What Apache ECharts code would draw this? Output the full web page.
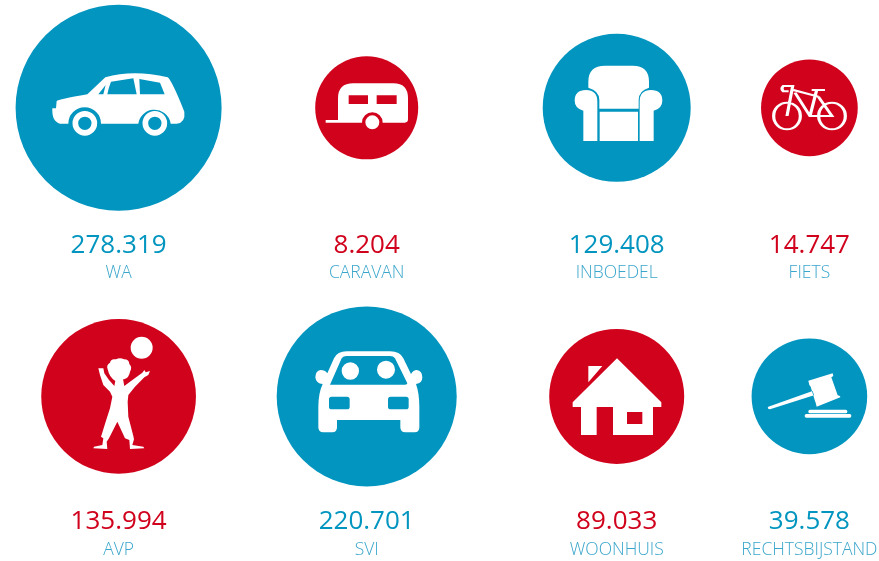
<!DOCTYPE html>
<html>
<head>
<meta charset="utf-8">
<title>Verzekeringen</title>
<style>
html, body { margin: 0; padding: 0; background: #fff; }
#main { width: 879px; height: 561px; }
</style>
<script src="https://cdn.jsdelivr.net/npm/echarts@6/dist/echarts.min.js"></script>
</head>
<body>
<div id="main"></div>
<script>
var categories = ['WA', 'CARAVAN', 'INBOEDEL', 'FIETS', 'AVP', 'SVI', 'WOONHUIS', 'RECHTSBIJSTAND'];
var amounts = [278319, 8204, 129408, 14747, 135994, 220701, 89033, 39578];

// layout, one entry per category
var BLUE = '#0295bf', RED = '#d0021c', NAME_BLUE = '#3aa6cb';
var tints = [BLUE, RED, BLUE, RED, RED, BLUE, RED, BLUE];
var diameters = [206, 103, 148, 96.7, 154.7, 180, 135, 115.6];
var colX = [118.6, 366.7, 616.7, 809.4];
var circleY = [107.8, 396.4];
var amountY = [245.7, 521.7];
var nameY = [273.2, 549.6];

function circ(cx, cy, r, cw) {
    var s = cw ? 1 : 0;
    return 'M' + (cx - r) + ' ' + cy + 'A' + r + ' ' + r + ' 0 1 ' + s + ' ' + (cx + r) + ' ' + cy +
        'A' + r + ' ' + r + ' 0 1 ' + s + ' ' + (cx - r) + ' ' + cy + 'Z';
}
function box(x0, y0, x1, y1, cw) {
    return cw ? 'M' + x0 + ' ' + y0 + 'L' + x1 + ' ' + y0 + 'L' + x1 + ' ' + y1 + 'L' + x0 + ' ' + y1 + 'Z'
              : 'M' + x0 + ' ' + y0 + 'L' + x0 + ' ' + y1 + 'L' + x1 + ' ' + y1 + 'L' + x1 + ' ' + y0 + 'Z';
}
function roundBox(x0, y0, x1, y1, r) {
    return 'M' + (x0 + r) + ' ' + y0 + 'L' + (x1 - r) + ' ' + y0 + 'Q' + x1 + ' ' + y0 + ' ' + x1 + ' ' + (y0 + r) +
        'L' + x1 + ' ' + (y1 - r) + 'Q' + x1 + ' ' + y1 + ' ' + (x1 - r) + ' ' + y1 +
        'L' + (x0 + r) + ' ' + y1 + 'Q' + x0 + ' ' + y1 + ' ' + x0 + ' ' + (y1 - r) +
        'L' + x0 + ' ' + (y0 + r) + 'Q' + x0 + ' ' + y0 + ' ' + (x0 + r) + ' ' + y0 + 'Z';
}

// icon outlines, drawn at 3x, origin is the quadrant of the picture they sit in
var icons = [
    { at: [0, 0], d:
        'M157 325L168 325L170 303Q175 298 262 283L316 232Q400 208 503 232Q515 240 553 335Q557 368 530 371L512 371' +
        'A49 49 0 0 0 415 371L303 371A49 49 0 0 0 205 371L180 371Q155 365 157 325Z' +
        'M322 283L410 283L400 235L333 245Q326 262 322 283Z' +
        'M420 283L494 283L480 248L418 237Z' +
        'M295 283L310 283L317 255Z' +
        circ(254.5, 370, 37, true) + circ(254.5, 370, 20, false) +
        circ(464.5, 370, 37, true) + circ(464.5, 370, 20, false) },
    { at: [0, 0], d:
        'M977 360L1014 360L1014 295Q1014 250 1060 250L1180 250Q1224 250 1224 295L1224 358Q1224 368 1214 368L1148 368' +
        'A31 31 0 0 0 1086 368L977 368Z' +
        box(1046, 286, 1104, 312, false) + box(1130, 286, 1190, 312, false) +
        circ(1117, 367, 21, true) },
    { at: [440, 0], d:
        'M445 263L445 245Q445 197 495 197L578 197Q627 197 627 245L627 263Q596 272 596 300L596 326L478 326L478 300Q478 272 445 263Z' +
        box(479, 335, 594, 423, true) +
        'M430 423L430 332Q404 325 404 302Q404 270 438 270Q472 270 472 305L472 423Z' +
        'M641 423L641 332Q667 325 667 302Q667 270 633 270Q599 270 599 305L599 423Z' },
    { at: [440, 0], line: true, d:
        circ(1041, 348, 40, true) + circ(1176, 348, 40, true) +
        'M1041 348L1058 258L1030 258Q1022 265 1030 274L1046 274' +
        'M1060 270L1135 290M1065 278L1110 348L1176 348L1135 290' +
        'M1110 348L1130 270M1115 270L1155 270' },
    { at: [0, 290], d:
        circ(425, 173, 33, true) +
        'M323 238Q318 225 330 218Q332 205 348 208Q360 202 372 208Q388 208 388 222Q398 232 390 245Q388 262 372 268L345 272Q328 262 323 238Z' +
        'M295 235L310 235L313 250L327 270L343 288L348 262L368 262L373 288L390 275L427 248L433 240L437 247L450 243L445 255L433 262L405 290L385 315' +
        'L383 335L385 380L400 438L402 448L397 465L430 470L433 475L390 477L388 450L375 445L352 395L327 445L320 455L322 477L280 475L282 470' +
        'L307 465L310 445L303 440L317 395L330 355L337 320L330 305L310 285L300 255Z' },
    { at: [0, 290], d:
        'M962 240Q946 243 946 262Q948 281 968 282Q955 310 955 350L955 412Q955 427 970 427L997 427Q1011 427 1011 412L1011 390' +
        'L1201 390L1201 412Q1201 427 1216 427L1244 427Q1258 427 1258 412L1258 350Q1258 310 1248 282Q1267 280 1267 262' +
        'Q1267 243 1250 240Q1240 240 1233 252L1210 205Q1200 184 1170 184L1040 184Q1012 184 1002 205L982 250Q975 240 962 240Z' +
        'M990 284L1025 205Q1030 198 1040 198L1170 198Q1180 198 1185 205L1222 280Q1222 284 1215 284Z' +
        circ(1051, 243, 26, false) + circ(1158, 239, 27, false) +
        roundBox(987, 320, 1049, 358, 8) + roundBox(1164, 320, 1226, 358, 8) },
    { at: [440, 290], d:
        'M531 205L664 337L664 351L639 351L639 435L519 435L519 351L470 351L470 435L423 435L423 351L398 351L398 337Z' +
        box(561, 366, 607, 402, false) +
        'M445 228L487 228L445 277Z' },
    { at: [440, 290], d:
        'M985 350Q980 355 990 358L1122 316L1118 303Z' +
        'M1105 272L1178 250L1180 258L1174 262L1193 316L1200 318L1201 322L1130 350L1127 338L1124 330L1112 290L1108 285Z' +
        roundBox(1105, 359, 1222, 370, 5) + roundBox(1094, 372, 1234, 383, 5) }
];

function colOf(i) { return colX[i % 4]; }
function rowOf(i) { return i < 4 ? 0 : 1; }
function dotted(v) { return String(v).replace(/\B(?=(\d{3})+(?!\d))/g, '.'); }

var circleData = categories.map(function (name, i) {
    return {
        name: name,
        value: [colOf(i), circleY[rowOf(i)]],
        symbolSize: diameters[i],
        itemStyle: { color: tints[i], opacity: 1 }
    };
});

var iconData = icons.map(function (icon, i) {
    var r = echarts.graphic.makePath(icon.d, {}).getBoundingRect();
    return {
        name: categories[i],
        value: [icon.at[0] + (r.x + r.width / 2) / 3, icon.at[1] + (r.y + r.height / 2) / 3],
        symbol: 'path://' + icon.d,
        symbolSize: [r.width / 3, r.height / 3],
        itemStyle: icon.line
            ? { color: 'none', borderColor: '#fff', borderWidth: 2.5, opacity: 1 }
            : { color: '#fff', opacity: 1 }
    };
});

function textSeries(rows, text, style) {
    return {
        type: 'scatter',
        silent: true,
        symbolSize: 1,
        itemStyle: { color: 'transparent', opacity: 1 },
        label: Object.assign({ show: true, position: 'inside', fontFamily: 'Open Sans' }, style),
        data: categories.map(function (name, i) {
            var item = { name: name, value: [colOf(i), rows[rowOf(i)]], label: { formatter: text(i) } };
            if (style.color === undefined) item.label.color = tints[i];
            return item;
        })
    };
}

var myChart = echarts.init(document.getElementById('main'));
var option = {
    backgroundColor: '#fff',
    animation: false,
    grid: { left: 0, right: 0, top: 0, bottom: 0 },
    xAxis: { type: 'value', min: 0, max: 879, show: false },
    yAxis: { type: 'value', min: 0, max: 561, inverse: true, show: false },
    series: [
        { type: 'scatter', silent: true, symbol: 'circle', data: circleData },
        { type: 'scatter', silent: true, data: iconData },
        textSeries(amountY, function (i) { return dotted(amounts[i]); }, { fontSize: 26 }),
        textSeries(nameY, function (i) { return categories[i]; }, { fontSize: 17.5, fontWeight: 300, color: NAME_BLUE })
    ]
};
myChart.setOption(option);
</script>
</body>
</html>
